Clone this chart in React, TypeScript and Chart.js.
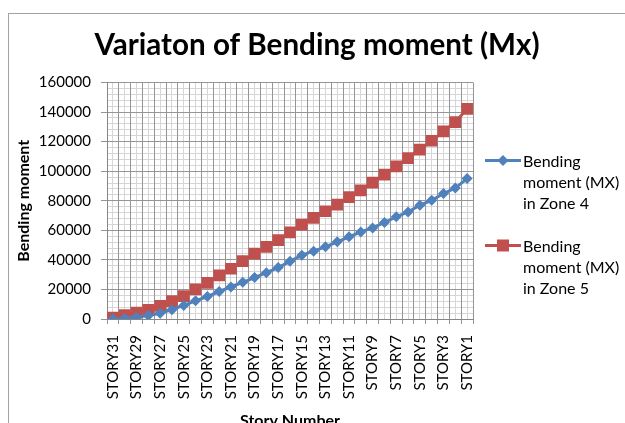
import React, { useEffect, useRef } from 'react';
import { Chart, registerables } from 'chart.js';

Chart.register(...registerables);

const categories = [
  'STORY31', 'STORY30', 'STORY29', 'STORY28', 'STORY27', 'STORY26', 'STORY25', 'STORY24',
  'STORY23', 'STORY22', 'STORY21', 'STORY20', 'STORY19', 'STORY18', 'STORY17', 'STORY16',
  'STORY15', 'STORY14', 'STORY13', 'STORY12', 'STORY11', 'STORY10', 'STORY9', 'STORY8',
  'STORY7', 'STORY6', 'STORY5', 'STORY4', 'STORY3', 'STORY2', 'STORY1',
];

const zone4 = [
  0, 400, 1200, 2300, 3900, 6300, 9200, 12300, 15200, 18600, 21700, 24800, 28000, 31300, 34800,
  39000, 43200, 45900, 48800, 52200, 55600, 58900, 61600, 65300, 69100, 72400, 77000, 80300,
  84900, 88600, 95000,
];

const zone5 = [
  1000, 2700, 4300, 6100, 8800, 12100, 15500, 20000, 24500, 29500, 34000, 39100, 44300, 48800,
  53300, 58600, 63900, 68400, 72900, 77400, 82400, 87100, 92300, 97700, 103300, 108900, 114600,
  120600, 126900, 133200, 142200,
];

const seriesLegend4 = ['Bending', 'moment (MX)', 'in Zone 4'];
const seriesLegend5 = ['Bending', 'moment (MX)', 'in Zone 5'];
const chartTitle = 'Variaton of Bending moment (Mx)';
const xTitle = 'Story Number';
const yTitle = 'Bending moment';
const yMin = 0;
const yMax = 160000;
const yMajorStep = 20000;
const yMinorStep = 4000;

const BLUE = '#4F81BD';
const RED = '#C0504D';
const MAJOR = '#959595';
const MINOR = '#d6d6d6';
const FONT = 'Lato, "Open Sans", sans-serif';

function LegendItem({ lines, color, square, top }: { lines: string[]; color: string; square: boolean; top: number }) {
  return (
    <div style={{ position: 'absolute', left: 476, top, display: 'flex', alignItems: 'flex-start' }}>
      <svg width={38} height={21} style={{ display: 'block', flex: 'none' }}>
        <line x1={0} y1={10.5} x2={36} y2={10.5} stroke={color} strokeWidth={3} />
        {square ? (
          <rect x={12} y={4.5} width={12} height={12} fill={color} />
        ) : (
          <polygon points="18,5 23.5,10.5 18,16 12.5,10.5" fill={color} />
        )}
      </svg>
      <div style={{ fontFamily: FONT, fontSize: 16, lineHeight: '21px', color: '#000', whiteSpace: 'nowrap' }}>
        {lines.map((l, i) => (
          <div key={i}>{l}</div>
        ))}
      </div>
    </div>
  );
}

export default function App() {
  const ref = useRef<HTMLCanvasElement>(null);

  useEffect(() => {
    const canvas = ref.current;
    if (!canvas) return;
    const tickFont = { family: FONT, size: 15 };
    const chart = new Chart(canvas, {
      type: 'line',
      data: {
        labels: categories,
        datasets: [
          {
            label: seriesLegend4.join(' '),
            data: zone4,
            borderColor: BLUE,
            backgroundColor: BLUE,
            borderWidth: 3,
            pointStyle: 'rectRot',
            pointRadius: 5.5,
            pointBorderWidth: 0,
            xAxisID: 'x',
            yAxisID: 'y',
          },
          {
            label: seriesLegend5.join(' '),
            data: zone5,
            borderColor: RED,
            backgroundColor: RED,
            borderWidth: 3,
            pointStyle: 'rect',
            pointRadius: 8.3,
            pointBorderWidth: 0,
            xAxisID: 'x',
            yAxisID: 'y',
          },
        ],
      },
      options: {
        responsive: false,
        animation: false,
        layout: { padding: { left: 0, right: 0, top: 0, bottom: 0 } },
        plugins: {
          legend: { display: false },
          tooltip: { enabled: false },
          title: {
            display: true,
            text: chartTitle,
            color: '#000',
            font: { family: FONT, size: 29.6, weight: 'bold' },
            padding: { top: 14, bottom: 19 },
          },
        },
        scales: {
          x2: {
            type: 'category',
            labels: categories,
            position: 'bottom',
            offset: true,
            z: -1,
            grid: { offset: false, color: MINOR, drawTicks: false },
            border: { display: false },
            ticks: { display: false },
            afterFit: (s: any) => {
              s.height = 0;
            },
          },
          y2: {
            type: 'linear',
            position: 'left',
            min: yMin,
            max: yMax,
            z: -1,
            grid: { color: MINOR, drawTicks: false },
            border: { display: false },
            ticks: { display: false, stepSize: yMinorStep },
            afterFit: (s: any) => {
              s.width = 0;
            },
          },
          yRight: {
            type: 'linear',
            position: 'right',
            min: yMin,
            max: yMax,
            grid: { display: false, drawTicks: false },
            border: { display: false },
            ticks: { display: false },
            afterFit: (s: any) => {
              s.width = 152;
            },
          },
          x: {
            type: 'category',
            position: 'bottom',
            offset: true,
            grid: { offset: true, color: MAJOR, tickColor: MAJOR, tickLength: 5 },
            border: { color: '#868686' },
            ticks: {
              autoSkip: false,
              minRotation: 90,
              maxRotation: 90,
              padding: 11,
              color: '#000',
              font: tickFont,
              callback: (_v: any, i: number) => (i % 2 === 0 ? categories[i] : ''),
            },
            title: {
              display: true,
              text: xTitle,
              color: '#000',
              font: { family: FONT, size: 16, weight: 'bold' },
              padding: { top: 0, bottom: 9 },
            },
            afterFit: (s: any) => {
              s.height = 120;
            },
          },
          y: {
            type: 'linear',
            position: 'left',
            min: yMin,
            max: yMax,
            grid: { color: MAJOR, tickColor: MAJOR, tickLength: 6 },
            border: { color: '#868686' },
            ticks: {
              stepSize: yMajorStep,
              padding: 10,
              color: '#000',
              font: tickFont,
              callback: (v: any) => String(v),
            },
            title: {
              display: true,
              text: yTitle,
              color: '#000',
              font: { family: FONT, size: 16, weight: 'bold' },
              padding: { top: 5, bottom: 0 },
            },
            afterFit: (s: any) => {
              s.width = 98;
            },
          },
        },
      },
    });
    return () => chart.destroy();
  }, []);

  return (
    <div
      style={{
        position: 'absolute',
        left: 8,
        top: 13,
        width: 616,
        height: 409,
        borderTop: '1px solid #a3a3a3',
        borderLeft: '1px solid #a3a3a3',
        overflow: 'hidden',
        background: '#fff',
      }}
    >
      <canvas ref={ref} width={616} height={425} style={{ position: 'absolute', left: 0, top: 0, width: 616, height: 425 }} />
      <LegendItem lines={seriesLegend4} color={BLUE} square={false} top={136} />
      <LegendItem lines={seriesLegend5} color={RED} square={true} top={221} />
    </div>
  );
}
